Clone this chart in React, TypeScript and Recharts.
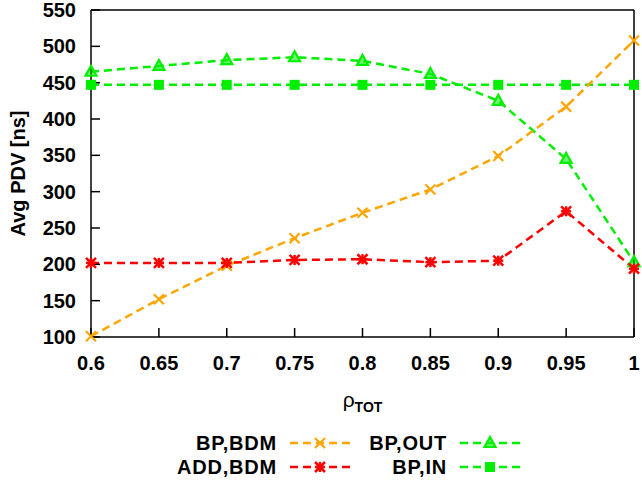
import { LineChart, Line, XAxis, YAxis } from "recharts";

const rho = [0.6, 0.65, 0.7, 0.75, 0.8, 0.85, 0.9, 0.95, 1];
const bpBdm = [101, 152, 198, 236, 271, 303, 349, 417, 508];
const addBdm = [202, 202, 202, 206, 207, 203, 205, 273, 194];
const bpOut = [465, 473, 481, 485, 480, 462, 425, 345, 203];
const bpIn = [447, 447, 447, 447, 447, 447, 447, 447, 447];

const xTicks = [0.6, 0.65, 0.7, 0.75, 0.8, 0.85, 0.9, 0.95, 1];
const yTicks = [100, 150, 200, 250, 300, 350, 400, 450, 500, 550];

const ORANGE = "#ffa500";
const RED = "#ff0000";
const GREEN = "#00ee00";
const FONT = "'Liberation Sans', Arial, sans-serif";

const data = rho.map((r, i) => ({
  rho: r,
  bpBdm: bpBdm[i],
  addBdm: addBdm[i],
  bpOut: bpOut[i],
  bpIn: bpIn[i],
}));

type Mark = "cross" | "star" | "triangle" | "square";

function Marker({ kind, cx, cy, color }: { kind: Mark; cx: number; cy: number; color: string }) {
  const s = 5;
  if (kind === "cross") {
    return (
      <g stroke={color} strokeWidth={2.2}>
        <line x1={cx - s} y1={cy - s} x2={cx + s} y2={cy + s} />
        <line x1={cx - s} y1={cy + s} x2={cx + s} y2={cy - s} />
      </g>
    );
  }
  if (kind === "star") {
    return (
      <g stroke={color} strokeWidth={2.5}>
        <line x1={cx - s} y1={cy - s} x2={cx + s} y2={cy + s} />
        <line x1={cx - s} y1={cy + s} x2={cx + s} y2={cy - s} />
        <line x1={cx - s} y1={cy} x2={cx + s} y2={cy} />
        <line x1={cx} y1={cy - s} x2={cx} y2={cy + s} />
      </g>
    );
  }
  if (kind === "triangle") {
    return (
      <polygon
        points={`${cx},${cy - 6} ${cx - 5.5},${cy + 4} ${cx + 5.5},${cy + 4}`}
        fill={color}
        fillOpacity={0.55}
        stroke={color}
        strokeWidth={2.2}
      />
    );
  }
  return <rect x={cx - 5} y={cy - 5} width={10} height={10} fill={color} />;
}

const dot = (kind: Mark, color: string) => (p: any) =>
  <Marker key={`${kind}-${p.index}`} kind={kind} cx={p.cx} cy={p.cy} color={color} />;

const series = [
  { key: "bpIn", name: "BP,IN", color: GREEN, mark: "square" as Mark },
  { key: "bpOut", name: "BP,OUT", color: GREEN, mark: "triangle" as Mark },
  { key: "bpBdm", name: "BP,BDM", color: ORANGE, mark: "cross" as Mark },
  { key: "addBdm", name: "ADD,BDM", color: RED, mark: "star" as Mark },
];

const legendRows = [
  [{ name: "BP,BDM", color: ORANGE, mark: "cross" as Mark }, { name: "BP,OUT", color: GREEN, mark: "triangle" as Mark }],
  [{ name: "ADD,BDM", color: RED, mark: "star" as Mark }, { name: "BP,IN", color: GREEN, mark: "square" as Mark }],
];

function KeyBox() {
  const cols = [277, 447];
  const rows = [443, 467];
  return (
    <svg width={642} height={485} style={{ position: "absolute", left: 0, top: 0, pointerEvents: "none" }}>
      {legendRows.map((row, ri) =>
        row.map((item, ci) => {
          const tx = cols[ci];
          const cy = rows[ri];
          return (
            <g key={item.name}>
              <text
                x={tx}
                y={cy + 7}
                textAnchor="end"
                fontFamily={FONT}
                fontWeight="bold"
                fontSize={20}
                letterSpacing={0.8}
                fill="#000"
              >
                {item.name}
              </text>
              <line x1={tx + 13} y1={cy} x2={tx + 75} y2={cy} stroke={item.color} strokeWidth={2.5} strokeDasharray="8 5" />
              <Marker kind={item.mark} cx={tx + 43} cy={cy} color={item.color} />
            </g>
          );
        })
      )}
    </svg>
  );
}

const tickStyle = { fontFamily: FONT, fontWeight: "bold", fontSize: 20, fill: "#000" };

export default function App() {
  return (
    <div style={{ position: "absolute", left: 0, top: 0, width: 642, height: 485, background: "#fff" }}>
      <LineChart width={642} height={485} data={data} margin={{ top: 9, right: 7, left: 0, bottom: 0 }}>
        <XAxis
          dataKey="rho"
          type="number"
          domain={[0.6, 1]}
          ticks={xTicks}
          tickFormatter={(v) => String(v)}
          height={148}
          stroke="#000"
          strokeWidth={1.5}
          tickSize={-9}
          tickMargin={28}
          tick={tickStyle}
          interval={0}
          label={{
            content: ({ viewBox }: any) => (
              <text
                x={viewBox.x + viewBox.width / 2}
                y={viewBox.y + 70}
                textAnchor="middle"
                fontFamily={FONT}
                fontSize={21}
                fill="#000"
              >
                ρ<tspan fontSize={14} fontWeight="bold" dy={5}>TOT</tspan>
              </text>
            ),
          }}
        />
        <XAxis
          xAxisId="top"
          dataKey="rho"
          type="number"
          orientation="top"
          domain={[0.6, 1]}
          ticks={xTicks}
          height={1}
          stroke="#000"
          strokeWidth={1.5}
          tickSize={-9}
          tick={false}
          interval={0}
        />
        <YAxis
          domain={[100, 550]}
          ticks={yTicks}
          width={91}
          stroke="#000"
          strokeWidth={1.5}
          tickSize={-9}
          tickMargin={24}
          tick={tickStyle}
          interval={0}
          label={{
            content: ({ viewBox }: any) => {
              const x = viewBox.x + 18;
              const y = viewBox.y + viewBox.height / 2;
              return (
                <text
                  x={x}
                  y={y}
                  transform={`rotate(-90, ${x}, ${y})`}
                  textAnchor="middle"
                  dominantBaseline="central"
                  fontFamily={FONT}
                  fontWeight="bold"
                  fontSize={20}
                  fill="#000"
                >
                  Avg PDV [ns]
                </text>
              );
            },
          }}
        />
        <YAxis
          yAxisId="right"
          orientation="right"
          domain={[100, 550]}
          ticks={yTicks}
          width={1}
          stroke="#000"
          strokeWidth={1.5}
          tickSize={-9}
          tick={false}
          interval={0}
        />
        {series.map((s) => (
          <Line
            key={s.key}
            type="linear"
            dataKey={s.key}
            name={s.name}
            stroke={s.color}
            strokeWidth={2.5}
            strokeDasharray="8 5"
            dot={dot(s.mark, s.color)}
            activeDot={false}
            isAnimationActive={false}
          />
        ))}
      </LineChart>
      <KeyBox />
    </div>
  );
}
